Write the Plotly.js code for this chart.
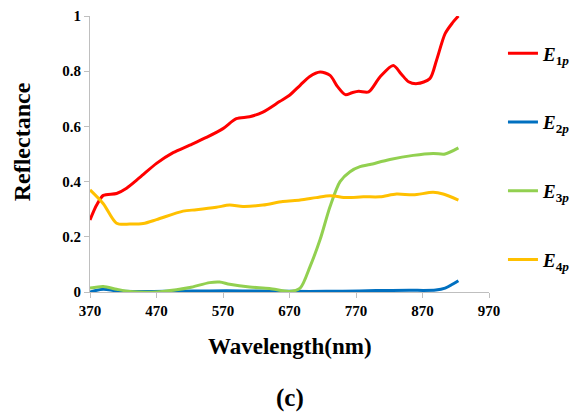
<!DOCTYPE html>
<html>
<head>
<meta charset="utf-8">
<script src="https://cdn.plot.ly/plotly-3.0.1.min.js"></script>
<style>
  html, body { margin: 0; padding: 0; background: #ffffff; }
  #chart { width: 572px; height: 417px; }
</style>
</head>
<body>
<div id="chart"></div>
<script>
// Reflectance spectra of the four endmembers
const wlE1 = [370, 380, 390, 410, 425, 445, 470, 495, 520, 545, 570, 590, 610, 630, 655, 670, 686, 700, 716, 731, 742, 754, 764, 774, 789, 806, 826, 838, 849, 862, 881, 891, 904, 915, 924];
const refE1 = [0.261, 0.315, 0.350, 0.357, 0.376, 0.415, 0.466, 0.505, 0.532, 0.560, 0.592, 0.628, 0.635, 0.652, 0.690, 0.713, 0.749, 0.780, 0.797, 0.785, 0.745, 0.715, 0.722, 0.727, 0.725, 0.779, 0.821, 0.790, 0.762, 0.755, 0.773, 0.839, 0.936, 0.975, 1.0];

const wlE2 = [370, 390, 410, 450, 500, 550, 600, 650, 700, 750, 800, 850, 890, 904, 915, 924];
const refE2 = [0.0, 0.010, 0.004, 0.002, 0.003, 0.004, 0.004, 0.003, 0.002, 0.003, 0.005, 0.006, 0.007, 0.014, 0.028, 0.041];

const wlE3 = [370, 390, 410, 430, 470, 500, 520, 550, 565, 580, 610, 640, 670, 686, 701, 716, 731, 746, 761, 776, 791, 821, 856, 886, 904, 924];
const refE3 = [0.014, 0.020, 0.010, 0.002, 0.000, 0.008, 0.016, 0.034, 0.036, 0.028, 0.018, 0.013, 0.002, 0.014, 0.093, 0.190, 0.310, 0.400, 0.436, 0.454, 0.462, 0.480, 0.495, 0.502, 0.500, 0.522];

const wlE4 = [370, 390, 410, 430, 450, 470, 510, 530, 560, 580, 600, 630, 660, 686, 710, 731, 756, 781, 806, 831, 856, 886, 901, 924];
const refE4 = [0.370, 0.320, 0.249, 0.246, 0.248, 0.262, 0.293, 0.298, 0.307, 0.315, 0.310, 0.315, 0.328, 0.333, 0.342, 0.349, 0.342, 0.345, 0.345, 0.355, 0.352, 0.361, 0.355, 0.333];

const xTicks = [370, 470, 570, 670, 770, 870, 970];
const yTicks = [0, 0.2, 0.4, 0.6, 0.8, 1];
const yTickText = ['0', '0.2', '0.4', '0.6', '0.8', '1'];

const xTitle = 'Wavelength(nm)';
const yTitle = 'Reflectance';
const panelLabel = '(c)';

const serif = 'Liberation Serif';

function series(x, y, name, color, group) {
  return {
    x: x, y: y, name: name, type: 'scatter', mode: 'lines',
    line: { color: color, width: 3, shape: 'spline', smoothing: 0.8 },
    legendgroup: group
  };
}

const traces = [
  series(wlE1, refE1, '<b><i>E</i><sub>1<i>p</i></sub></b>', '#ff0000', 'g1'),
  series(wlE2, refE2, '<b><i>E</i><sub>2<i>p</i></sub></b>', '#0070c0', 'g2'),
  series(wlE3, refE3, '<b><i>E</i><sub>3<i>p</i></sub></b>', '#92d050', 'g3'),
  series(wlE4, refE4, '<b><i>E</i><sub>4<i>p</i></sub></b>', '#ffc000', 'g4')
];

const axisColor = '#bfbfbf';

function label(text, x, y, size, angle) {
  return {
    text: '<b>' + text + '</b>', xref: 'paper', yref: 'paper', x: x, y: y,
    xanchor: 'center', yanchor: 'middle', showarrow: false, textangle: angle || 0,
    font: { family: serif, size: size, color: '#000000' }
  };
}

const layout = {
  width: 572, height: 417,
  margin: { l: 90, r: 83, t: 16, b: 125, autoexpand: false },
  paper_bgcolor: '#ffffff', plot_bgcolor: '#ffffff',
  showlegend: true,
  legend: {
    x: 1.035, y: 0.933, xanchor: 'left', yanchor: 'top',
    traceorder: 'grouped', tracegroupgap: 41,
    font: { family: serif, size: 19, color: '#000000' },
    itemwidth: 30, bgcolor: 'rgba(0,0,0,0)'
  },
  xaxis: {
    range: [370, 970], tickmode: 'array', tickvals: xTicks,
    showgrid: false, zeroline: false,
    showline: true, linecolor: axisColor, linewidth: 1,
    ticks: 'outside', ticklen: 5, tickcolor: axisColor,
    tickfont: { family: serif, size: 15, color: '#000000', weight: 'bold' }
  },
  yaxis: {
    range: [0, 1], tickmode: 'array', tickvals: yTicks, ticktext: yTickText,
    showgrid: false, zeroline: false,
    showline: true, linecolor: axisColor, linewidth: 1,
    ticks: 'outside', ticklen: 5, tickcolor: axisColor,
    tickfont: { family: serif, size: 15, color: '#000000', weight: 'bold' }
  },
  annotations: [
    label(xTitle, 0.5, -0.199, 23),
    label(yTitle, -0.17, 0.543, 24, -90),
    label(panelLabel, 0.5, -0.384, 25)
  ]
};

Plotly.newPlot('chart', traces, layout, { displayModeBar: false, staticPlot: true });
</script>
</body>
</html>
